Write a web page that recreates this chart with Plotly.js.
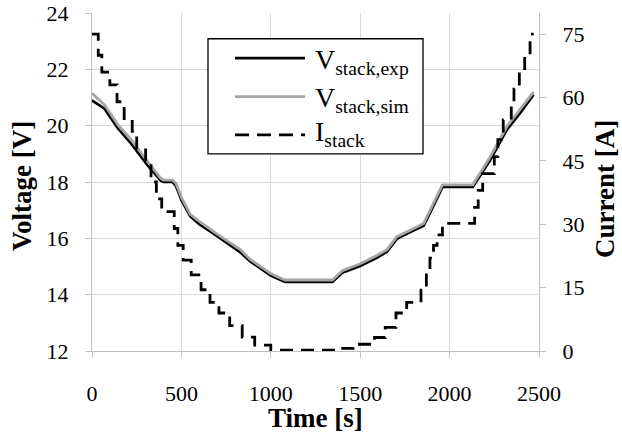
<!DOCTYPE html>
<html>
<head>
<meta charset="utf-8">
<script src="https://cdn.plot.ly/plotly-3.0.1.min.js"></script>
</head>
<body style="margin:0">
<div id="chart"></div>
<script>
// ---- data ----
var timeV = [0, 70, 145, 220, 310, 385, 400, 450, 470, 500, 550, 600, 700, 830, 885, 1000, 1040, 1080, 1345, 1400, 1500, 1590, 1650, 1705, 1800, 1855, 1910, 1960, 2130, 2170, 2225, 2320, 2395, 2470];
var vStackExp = [20.9, 20.6, 19.9, 19.35, 18.6, 18.05, 18.0, 18.0, 17.85, 17.35, 16.78, 16.5, 16.08, 15.5, 15.18, 14.68, 14.56, 14.45, 14.45, 14.78, 15.02, 15.3, 15.52, 15.98, 16.28, 16.45, 17.15, 17.82, 17.82, 18.2, 18.75, 19.85, 20.45, 21.1];
var vStackSim = [21.15, 20.74, 20.03, 19.5, 18.73, 18.13, 18.07, 18.07, 17.95, 17.45, 16.85, 16.6, 16.15, 15.6, 15.25, 14.75, 14.63, 14.52, 14.52, 14.85, 15.1, 15.38, 15.6, 16.06, 16.35, 16.53, 17.25, 17.9, 17.9, 18.31, 18.87, 19.97, 20.57, 21.2];
var timeI = [0, 35, 55, 100, 140, 180, 225, 250, 300, 330, 360, 390, 460, 480, 510, 555, 610, 660, 710, 770, 840, 910, 1000, 1380, 1460, 1580, 1640, 1700, 1760, 1840, 1870, 1890, 1910, 1930, 1960, 2140, 2160, 2185, 2250, 2270, 2300, 2345, 2360, 2390, 2420, 2450, 2470];
var iStack = [75, 70, 66, 63, 59, 55, 52, 48, 45, 40, 36, 33, 29, 25, 21.5, 18, 14.5, 11.5, 9, 6, 3.3, 1.4, 0.2, 0.6, 1.6, 3.2, 5.6, 9, 11.5, 14.4, 18.4, 22, 25, 27.5, 30.2, 34, 38, 42, 46, 50, 54.7, 58, 62, 66.4, 70, 75, 75];
var xTicks = [0, 500, 1000, 1500, 2000, 2500];
var yTicks = [12, 14, 16, 18, 20, 22, 24];
var y2Ticks = [0, 15, 30, 45, 60, 75];
var legendNames = ['V<sub>stack,exp</sub>', 'V<sub>stack,sim</sub>', 'I<sub>stack</sub>'];
var axisTitles = {x: 'Time [s]', y: 'Voltage [V]', y2: 'Current [A]'};

var FONT = 'Liberation Serif';
var traces = [
  {x: timeV, y: vStackExp, type: 'scatter', mode: 'lines', name: legendNames[0],
   line: {color: '#000000', width: 2.6}, yaxis: 'y'},
  {x: timeV, y: vStackSim, type: 'scatter', mode: 'lines', name: legendNames[1],
   line: {color: '#a6a6a6', width: 2.8}, yaxis: 'y'},
  {x: timeI, y: iStack, type: 'scatter', mode: 'lines', name: legendNames[2],
   line: {color: '#000000', width: 2.8, dash: '13px,8px', shape: 'hv'}, yaxis: 'y2'}
];

// custom legend box (decoration only)
var L = {x0: 0.2595, x1: 0.7405, y0: 0.583, y1: 0.9238};
var rows = [0.8666, 0.7528, 0.6393];
var rowText = [0.8557, 0.7433, 0.6423];
var styles = [
  {color: '#000000', width: 2.6, dash: 'solid'},
  {color: '#a6a6a6', width: 2.8, dash: 'solid'},
  {color: '#000000', width: 2.8, dash: '14px,8px'}
];
var shapes = [{type: 'rect', xref: 'paper', yref: 'paper', x0: L.x0, x1: L.x1, y0: L.y0, y1: L.y1,
  line: {color: '#000000', width: 1.3}, fillcolor: '#ffffff', layer: 'above'}];
var annotations = [];
for (var k = 0; k < 3; k++) {
  shapes.push({type: 'line', xref: 'paper', yref: 'paper', x0: 0.3199, x1: 0.4765, y0: rows[k], y1: rows[k],
    line: styles[k], layer: 'above'});
  annotations.push({xref: 'paper', yref: 'paper', x: 0.4945, y: rowText[k], xanchor: 'left', yanchor: 'middle',
    text: legendNames[k], showarrow: false, font: {family: FONT, size: 28, color: '#000000'}});
}
// axis titles
var titleFont = {family: FONT, size: 27, color: '#000000'};
annotations.push({xref: 'paper', yref: 'paper', x: 0.5, y: 0, xanchor: 'center', yanchor: 'middle', yshift: -67,
  text: '<b>' + axisTitles.x + '</b>', showarrow: false, font: titleFont});
annotations.push({xref: 'paper', yref: 'paper', x: 0, y: 0.5, xanchor: 'center', yanchor: 'middle', xshift: -70, yshift: -4,
  textangle: -90, text: '<b>' + axisTitles.y + '</b>', showarrow: false, font: titleFont});
annotations.push({xref: 'paper', yref: 'paper', x: 1, y: 0.5, xanchor: 'center', yanchor: 'middle', xshift: 66, yshift: -7,
  textangle: -90, text: '<b>' + axisTitles.y2 + '</b>', showarrow: false, font: titleFont});

var tickFont = {family: FONT, size: 22, color: '#000000'};
var layout = {
  width: 622, height: 436,
  margin: {l: 92, r: 83, t: 13, b: 85},
  paper_bgcolor: '#ffffff', plot_bgcolor: '#ffffff',
  showlegend: false,
  font: {family: FONT, size: 22, color: '#000000'},
  xaxis: {range: [0, 2500], tickvals: xTicks, ticktext: xTicks.map(String),
    showgrid: true, gridcolor: '#d9d9d9', gridwidth: 1.3,
    showline: true, linecolor: '#bfbfbf', linewidth: 1.3,
    ticks: 'outside', ticklen: 6, tickcolor: '#bfbfbf', ticklabelstandoff: 16,
    zeroline: false, tickfont: tickFont},
  yaxis: {range: [12, 24], tickvals: yTicks, ticktext: yTicks.map(String),
    showgrid: true, gridcolor: '#d9d9d9', gridwidth: 1.3,
    showline: true, linecolor: '#bfbfbf', linewidth: 1.3,
    ticks: 'outside', ticklen: 6, tickcolor: '#bfbfbf', ticklabelstandoff: 12,
    zeroline: false, tickfont: tickFont},
  yaxis2: {range: [0, 80], tickvals: y2Ticks, ticktext: y2Ticks.map(String),
    overlaying: 'y', side: 'right', showgrid: false,
    showline: true, linecolor: '#bfbfbf', linewidth: 1.3,
    ticks: 'outside', ticklen: 6, tickcolor: '#bfbfbf', ticklabelstandoff: 12,
    zeroline: false, tickfont: tickFont},
  shapes: shapes,
  annotations: annotations
};
Plotly.newPlot('chart', traces, layout, {displayModeBar: false});
</script>
</body>
</html>
